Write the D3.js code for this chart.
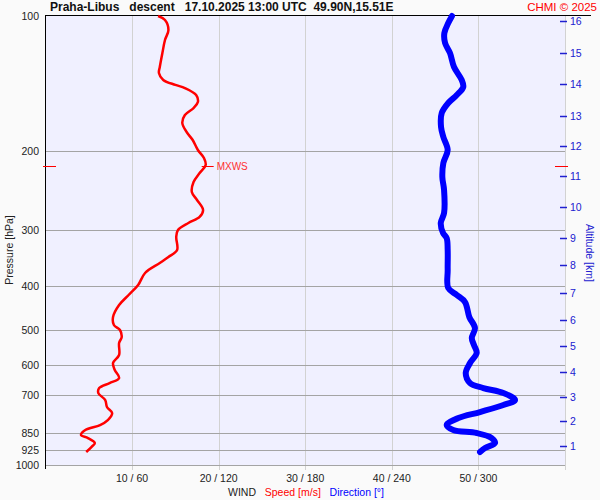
<!DOCTYPE html>
<html>
<head>
<meta charset="utf-8">
<title>Praha-Libus descent</title>
<style>
  body { margin: 0; background: #fafafa; }
  svg { display: block; font-family: "Liberation Sans", Arial, sans-serif; }
  text { white-space: pre; }
</style>
<script src="https://cdn.jsdelivr.net/npm/d3@7"></script>
</head>
<body>
<svg width="600" height="500"></svg>
<script>
// pressure levels (hPa) and wind speed (m/s)
const speedPres = [100, 102.1, 107.4, 113.1, 120.9, 129.9, 133.9, 138.8, 142.4, 144.7, 150, 155.5, 160.3, 166.2, 173.1, 181.3,
  188.9, 198.8, 207.2, 214.7, 223.7, 234.3, 246.6, 256.9, 270.4, 280.3, 289.1, 299.7, 310.6, 332, 344.1, 354.9, 373.6, 397.3,
  418.2, 440.3, 468.2, 487.8, 500.5, 518.8, 535, 568.9, 592.7, 614.4, 640.2, 656.9, 673.9, 691.4, 716.7, 742.9, 766.1, 794.1,
  814.7, 835.8, 857.6, 870.9, 893.5, 912, 935.5];
const speedVal = [13.0, 13.8, 14.2, 13.8, 13.5, 13.2, 13.1, 13.6, 15.0, 16.1, 17.4, 17.6, 17.1, 16.1, 15.8, 16.3,
  17.0, 17.6, 18.3, 18.5, 17.8, 17.1, 16.9, 17.5, 18.2, 17.8, 16.5, 15.3, 15.1, 15.2, 14.2, 13.2, 11.5, 10.7,
  9.6, 8.5, 7.8, 7.9, 8.6, 8.8, 8.5, 8.5, 7.8, 8.0, 8.5, 7.4, 6.2, 6.1, 6.9, 7.1, 7.7, 7.2,
  6.3, 4.6, 4.1, 4.9, 5.7, 5.3, 4.7];

// pressure levels (hPa) and wind direction (deg)
const dirPres = [100, 103.7, 109.1, 114.9, 120.9, 129.9, 138.8, 143.9, 150, 156.2, 164.4, 176.7, 186, 198.8, 212.5, 228.4,
  244.1, 274.7, 289.1, 304.3, 312.2, 332, 367.9, 403.5, 418.2, 433.5, 468.2, 495.4, 521.4, 540.4, 563, 592.7, 624, 656.9,
  673.9, 691.4, 716.7, 735.3, 762.1, 785.8, 814.7, 835.8, 848.8, 870.9, 893.5, 916.7, 935.5];
const dirVal = [281.7, 279.1, 276.4, 276.9, 280.3, 283.1, 288.4, 289.5, 285.0, 279.1, 274.6, 274.1, 275.7, 278.7, 275.7, 275.0,
  276.2, 276.2, 273.9, 275.5, 278.0, 278.7, 278.7, 279.1, 285.0, 290.7, 293.7, 297.6, 295.4, 296.9, 298.8, 294.2, 291.2, 294.2,
  303.4, 317.3, 325.4, 317.3, 301.1, 286.1, 278.0, 282.6, 298.8, 309.2, 311.5, 304.6, 301.1];

const presTicks = [100, 200, 300, 400, 500, 600, 700, 850, 925, 1000];
const speedTicks = [10, 20, 30, 40, 50];
const altKm = [1, 2, 3, 4, 5, 6, 7, 8, 9, 10, 11, 12, 13, 14, 15, 16];
const altPres = [907, 798, 706, 621, 543, 475, 414, 358.5, 312, 266, 227, 195, 167, 142, 121, 102.6];
const mxws = {pres: 216, speed: 18.5};

const svg = d3.select("svg");
const x = d3.scaleLinear().domain([0, 60]).range([45.5, 565]);
const xDir = d3.scaleLinear().domain([0, 360]).range([45.5, 565]);
const y = d3.scaleLog().domain([100, 1000]).range([16, 465]);

// plot background
svg.append("rect").attr("x", 45.5).attr("y", 15.5).attr("width", 519.5).attr("height", 449.5).attr("fill", "#f0f0ff");

// vertical grid
svg.selectAll(".vg").data(speedTicks.concat([60])).enter().append("line")
  .attr("x1", d => Math.round(x(d)) + 0.5).attr("x2", d => Math.round(x(d)) + 0.5)
  .attr("y1", 15).attr("y2", 470).attr("stroke", "#d2d2d2");

// horizontal grid
svg.selectAll(".hg").data(presTicks.slice(1)).enter().append("line")
  .attr("x1", 45).attr("x2", 565)
  .attr("y1", d => Math.round(y(d)) + 0.5).attr("y2", d => Math.round(y(d)) + 0.5)
  .attr("stroke", "#a4a4a4");

// pressure labels
svg.selectAll(".pl").data(presTicks).enter().append("text")
  .attr("x", 39).attr("y", d => y(d) + 4).attr("text-anchor", "end")
  .attr("font-size", 10.5).attr("fill", "#222").text(d => d);

// left axis and top rule
svg.append("line").attr("x1", 45.5).attr("x2", 45.5).attr("y1", 15).attr("y2", 469).attr("stroke", "#000");
svg.append("line").attr("x1", 45).attr("x2", 591).attr("y1", 15.5).attr("y2", 15.5).attr("stroke", "#000");

// speed / direction labels
svg.selectAll(".xl").data(speedTicks).enter().append("text")
  .attr("x", d => x(d)).attr("y", 482).attr("text-anchor", "middle")
  .attr("font-size", 10.5).attr("fill", "#222").text(d => d + " / " + d * 6);

const wind = svg.append("text").attr("x", 306).attr("y", 496).attr("text-anchor", "middle").attr("font-size", 10.5);
wind.append("tspan").attr("fill", "#222").text("WIND   ");
wind.append("tspan").attr("fill", "#ff0000").text("Speed [m/s]   ");
wind.append("tspan").attr("fill", "#0000ff").text("Direction [°]");

// altitude axis
svg.selectAll(".at").data(altKm).enter().append("line")
  .attr("x1", 560).attr("x2", 567)
  .attr("y1", (d, i) => Math.round(y(altPres[i])) + 0.5).attr("y2", (d, i) => Math.round(y(altPres[i])) + 0.5)
  .attr("stroke", "#2020d0").attr("stroke-width", 1.5);
svg.selectAll(".al").data(altKm).enter().append("text")
  .attr("x", 570).attr("y", (d, i) => y(altPres[i]) + 4)
  .attr("font-size", 10.5).attr("fill", "#2020d0").text(d => d);

svg.append("text").attr("transform", "translate(586,253) rotate(90)")
  .attr("text-anchor", "middle").attr("font-size", 10.5).attr("fill", "#2020d0").text("Altitude [km]");
svg.append("text").attr("transform", "translate(13,250) rotate(-90)")
  .attr("text-anchor", "middle").attr("font-size", 10.5).attr("fill", "#222").text("Pressure [hPa]");

// title
svg.append("text").attr("x", 50).attr("y", 11).attr("font-size", 12).attr("font-weight", "bold").attr("fill", "#111")
  .text("Praha-Libus   descent   17.10.2025 13:00 UTC  49.90N,15.51E");
svg.append("text").attr("x", 597).attr("y", 11).attr("text-anchor", "end").attr("font-size", 11.5).attr("fill", "#ff0000")
  .text("CHMI © 2025");

// curves
const clip = svg.append("clipPath").attr("id", "plot").append("rect")
  .attr("x", 0).attr("y", 10).attr("width", 600).attr("height", 470);

const lineSpeed = d3.line().x(d => x(d[1])).y(d => y(d[0])).curve(d3.curveCatmullRom);
const lineDir = d3.line().x(d => xDir(d[1])).y(d => y(d[0])).curve(d3.curveCatmullRom);

svg.append("path").datum(dirPres.map((p, i) => [p, dirVal[i]]))
  .attr("d", lineDir).attr("fill", "none").attr("stroke", "#0000ff")
  .attr("stroke-width", 6).attr("stroke-linecap", "round").attr("stroke-linejoin", "round");

svg.append("path").datum(speedPres.map((p, i) => [p, speedVal[i]]))
  .attr("d", lineSpeed).attr("fill", "none").attr("stroke", "#ff0000")
  .attr("stroke-width", 2.5).attr("stroke-linejoin", "round");

// max wind marker
const my = Math.round(y(mxws.pres)) + 0.5;
svg.append("line").attr("x1", x(mxws.speed) - 4).attr("x2", x(mxws.speed) + 8).attr("y1", my).attr("y2", my).attr("stroke", "#ff0000");
svg.append("text").attr("x", x(mxws.speed) + 11).attr("y", my + 3.5).attr("font-size", 10).attr("fill", "#ff3030").text("MXWS");
svg.append("line").attr("x1", 43).attr("x2", 56).attr("y1", my).attr("y2", my).attr("stroke", "#ff0000");
svg.append("line").attr("x1", 555).attr("x2", 568).attr("y1", my).attr("y2", my).attr("stroke", "#ff0000");
</script>
</body>
</html>
